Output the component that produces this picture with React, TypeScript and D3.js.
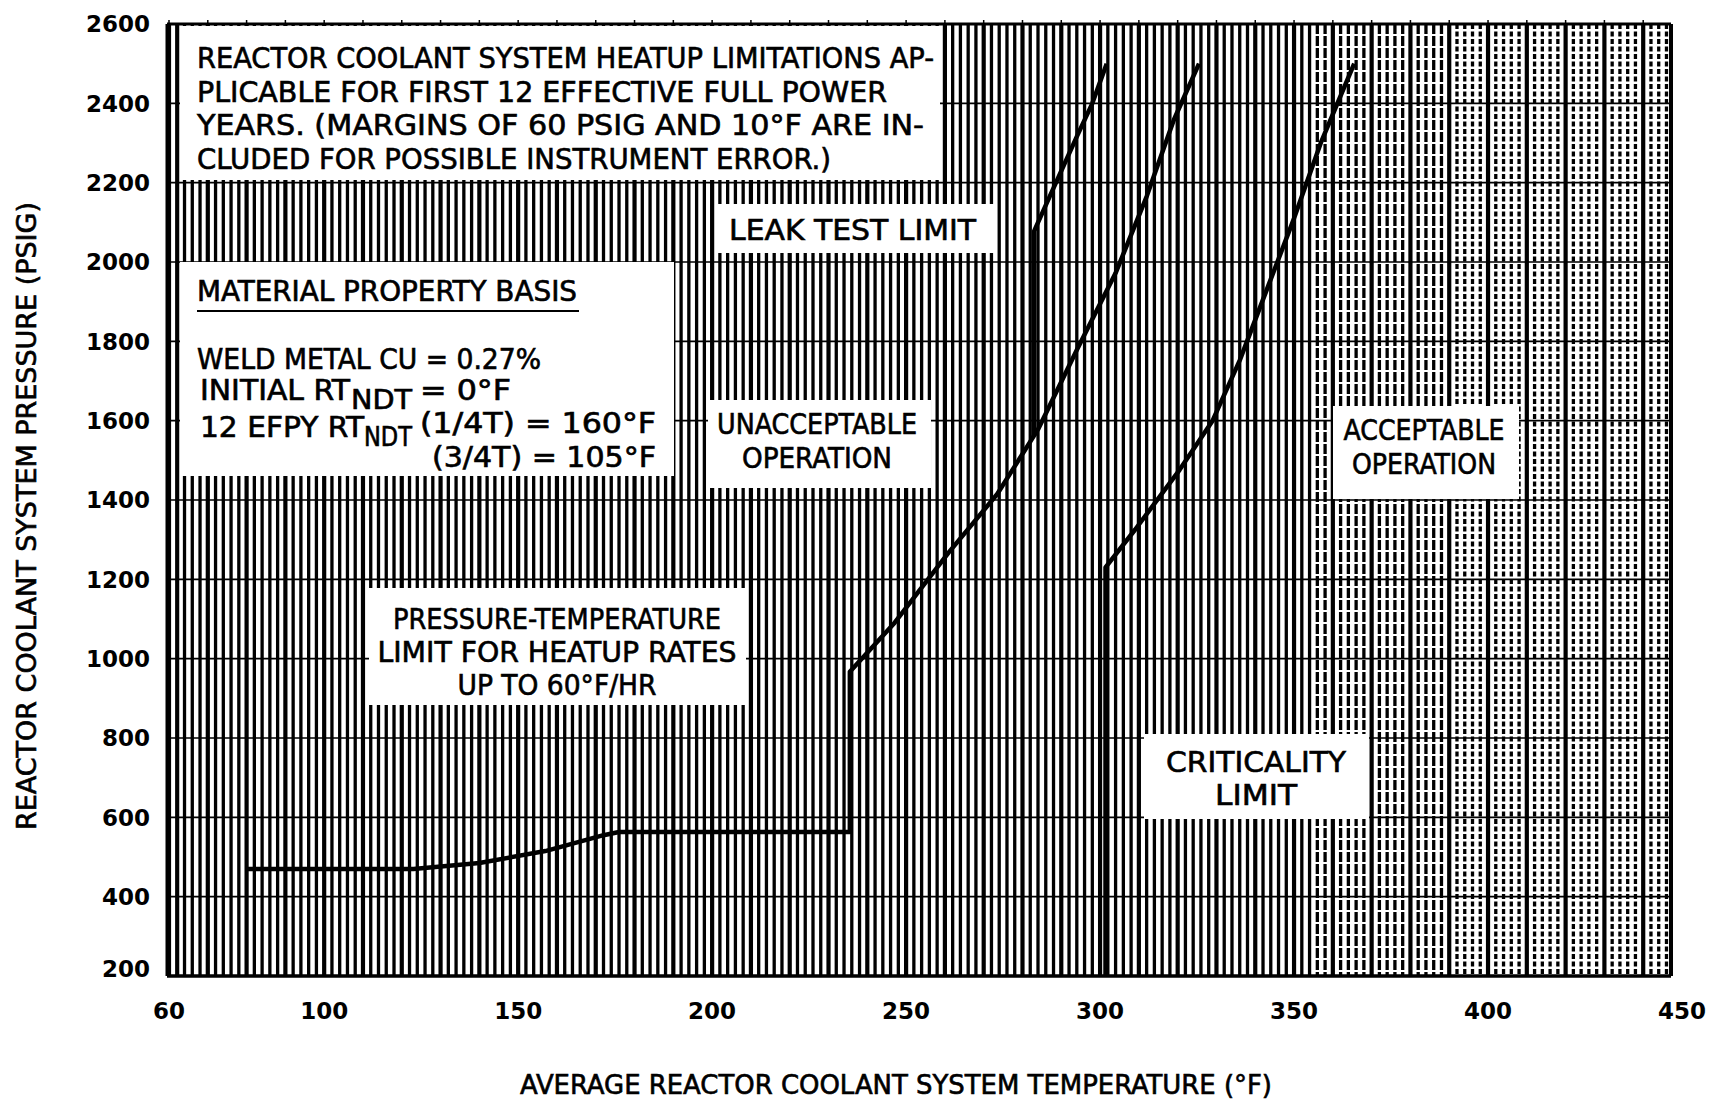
import React from "react";
import * as d3 from "d3";

const W = 1713;
const H = 1099;

const tempTicks = [60, 100, 150, 200, 250, 300, 350, 400, 450];
const pressTicks = [200, 400, 600, 800, 1000, 1200, 1400, 1600, 1800, 2000, 2200, 2400, 2600];

// heatup limit, rates up to 60 F/hr
const heatupTemp = [80, 100, 123, 140, 157, 172, 176, 235.5, 235.5, 247, 261, 273.5, 284, 294, 304, 312, 319, 325.5];
const heatupPress = [470, 470, 470, 485, 515, 555, 563, 563, 967, 1090, 1268, 1415, 1578, 1778, 1972, 2165, 2358, 2500];

// leak test limit
const leakTemp = [283, 283, 287, 294, 298, 301.7];
const leakPress = [1562, 2078, 2165, 2316, 2400, 2500];

// criticality limit
const critTemp = [301.4, 301.4, 309, 320.5, 329, 336, 343, 350, 357, 365.5];
const critPress = [200, 1230, 1325, 1476, 1600, 1752, 1931, 2110, 2303, 2500];

const FONT = "'DejaVu Sans Condensed', 'Liberation Sans Narrow', 'DejaVu Sans', sans-serif";

function Txt({ x, y, len, size = 28, anchor = "start", children }: any) {
  return (
    <text x={x} y={y} fontSize={size} textAnchor={anchor} fontFamily={FONT} fontStretch="condensed"
      textLength={len} lengthAdjust="spacingAndGlyphs" fill="#000" stroke="#000" strokeWidth={0.6}>
      {children}
    </text>
  );
}

export default function App() {
  const x = d3.scaleLinear().domain([60, 450]).range([169, 1682]);
  const y = d3.scaleLinear().domain([200, 2600]).range([976, 24]);
  const left = 167;
  const right = 1671;
  const top = y(2600);
  const bottom = y(200);

  const line = d3.line<[number, number]>().x((d) => x(d[0])).y((d) => y(d[1]));
  const heat = line(heatupTemp.map((t, i) => [t, heatupPress[i]]));
  const leak = line(leakTemp.map((t, i) => [t, leakPress[i]]));
  const crit = line(critTemp.map((t, i) => [t, critPress[i]]));

  const vgrid = d3.range(60, 451, 2).filter((t) => x(t) < right - 2);

  return (
    <div style={{ position: "absolute", left: 0, top: 0 }}>
      <svg width={W} height={H} style={{ display: "block", background: "#fff" }}>
        {/* graph paper */}
        {vgrid.map((t) => {
          const major = t % 10 === 0;
          let dash: string | undefined;
          if (!major && t >= 392) dash = "5 2.5";
          else if (!major && t >= 356) dash = "10 2";
          return (
            <line key={"v" + t} x1={x(t)} x2={x(t)} y1={top} y2={bottom}
              stroke="#000" strokeWidth={major ? 4.2 : 3.3} strokeDasharray={dash} />
          );
        })}
        {pressTicks.slice(1, -1).map((p) => (
          <line key={"h" + p} x1={left} x2={right} y1={y(p)} y2={y(p)} stroke="#000" strokeWidth={1.6} />
        ))}

        {/* white label boxes */}
        <rect x={180} y={top + 2} width={760} height={154} fill="#fff" />
        <rect x={716} y={204} width={281} height={49} fill="#fff" />
        <rect x={180} y={262} width={494} height={214} fill="#fff" />
        <rect x={708} y={400} width={223} height={88} fill="#fff" />
        <rect x={1333} y={406} width={186} height={93} fill="#fff" />
        <rect x={369} y={588} width={377} height={117} fill="#fff" />
        <rect x={1144} y={734} width={225} height={85} fill="#fff" />

        {/* frame */}
        <line x1={left} x2={right} y1={top} y2={top} stroke="#000" strokeWidth={3} />
        {d3.range(60, 450, 10).map((t) => (
          <line key={"tt" + t} x1={x(t)} x2={x(t)} y1={top - 4} y2={top} stroke="#000" strokeWidth={1.5} />
        ))}
        <line x1={left} x2={right} y1={bottom} y2={bottom} stroke="#000" strokeWidth={3.5} />
        <line x1={left} x2={left} y1={top} y2={bottom} stroke="#000" strokeWidth={3} />
        <line x1={left + 11} x2={left + 11} y1={top} y2={bottom} stroke="#000" strokeWidth={2.5} />
        <line x1={right} x2={right} y1={top} y2={bottom} stroke="#000" strokeWidth={4} />

        {/* limit curves */}
        <path d={heat ?? ""} fill="none" stroke="#000" strokeWidth={4.5} strokeLinejoin="round" />
        <path d={leak ?? ""} fill="none" stroke="#000" strokeWidth={4.5} strokeLinejoin="round" />
        <path d={crit ?? ""} fill="none" stroke="#000" strokeWidth={4.5} strokeLinejoin="round" />

        {/* header note */}
        <Txt x={197} y={68} len={737} size={29}>REACTOR COOLANT SYSTEM HEATUP LIMITATIONS AP-</Txt>
        <Txt x={197} y={102} len={690} size={29}>PLICABLE FOR FIRST 12 EFFECTIVE FULL POWER</Txt>
        <Txt x={197} y={135} len={727} size={29}>YEARS.  (MARGINS OF 60 PSIG AND 10°F ARE IN-</Txt>
        <Txt x={197} y={169} len={634} size={29}>CLUDED FOR POSSIBLE INSTRUMENT ERROR.)</Txt>

        <Txt x={729} y={240} len={247} size={29}>LEAK TEST LIMIT</Txt>

        {/* material basis */}
        <Txt x={197} y={301} len={380} size={28}>MATERIAL PROPERTY BASIS</Txt>
        <line x1={197} x2={579} y1={311} y2={311} stroke="#000" strokeWidth={2} />
        <Txt x={197} y={369} len={344} size={28}>WELD METAL CU = 0.27%</Txt>
        <Txt x={200} y={400} len={150} size={28}>INITIAL RT</Txt>
        <Txt x={351} y={409} len={61} size={26}>NDT</Txt>
        <Txt x={420} y={400} len={91} size={28}>= 0°F</Txt>
        <Txt x={200} y={437} len={164} size={28}>12 EFPY RT</Txt>
        <Txt x={364} y={446} len={48} size={26}>NDT</Txt>
        <Txt x={420} y={433} len={236} size={28}>(1/4T) = 160°F</Txt>
        <Txt x={432} y={467} len={224} size={28}>(3/4T) = 105°F</Txt>

        {/* region labels */}
        <Txt x={817} y={434} len={200} size={29} anchor="middle">UNACCEPTABLE</Txt>
        <Txt x={817} y={468} len={150} size={29} anchor="middle">OPERATION</Txt>
        <Txt x={1424} y={440} len={161} size={29} anchor="middle">ACCEPTABLE</Txt>
        <Txt x={1424} y={474} len={144} size={29} anchor="middle">OPERATION</Txt>
        <Txt x={557} y={629} len={328} size={29} anchor="middle">PRESSURE-TEMPERATURE</Txt>
        <Txt x={557} y={662} len={359} size={29} anchor="middle">LIMIT FOR HEATUP RATES</Txt>
        <Txt x={557} y={695} len={199} size={29} anchor="middle">UP TO 60°F/HR</Txt>
        <Txt x={1256} y={772} len={180} size={29} anchor="middle">CRITICALITY</Txt>
        <Txt x={1256} y={805} len={82} size={29} anchor="middle">LIMIT</Txt>

        {/* tick labels */}
        {pressTicks.map((p) => (
          <text key={"yl" + p} x={150} y={y(p) - (p === 200 ? 7 : 0)} dy="0.36em" textAnchor="end"
            fontFamily="'DejaVu Sans', sans-serif" fontWeight="bold" fontSize={23} fill="#000">{p}</text>
        ))}
        {tempTicks.map((t) => (
          <text key={"xl" + t} x={x(t)} y={1019} textAnchor="middle" fontFamily="'DejaVu Sans', sans-serif"
            fontWeight="bold" fontSize={23} fill="#000">{t}</text>
        ))}

        {/* axis titles */}
        <g transform="translate(36,516) rotate(-90)">
          <Txt x={0} y={0} len={628} size={26} anchor="middle">REACTOR COOLANT SYSTEM PRESSURE (PSIG)</Txt>
        </g>
        <Txt x={896} y={1094} len={752} size={27} anchor="middle">AVERAGE REACTOR COOLANT SYSTEM TEMPERATURE (°F)</Txt>
      </svg>
    </div>
  );
}
